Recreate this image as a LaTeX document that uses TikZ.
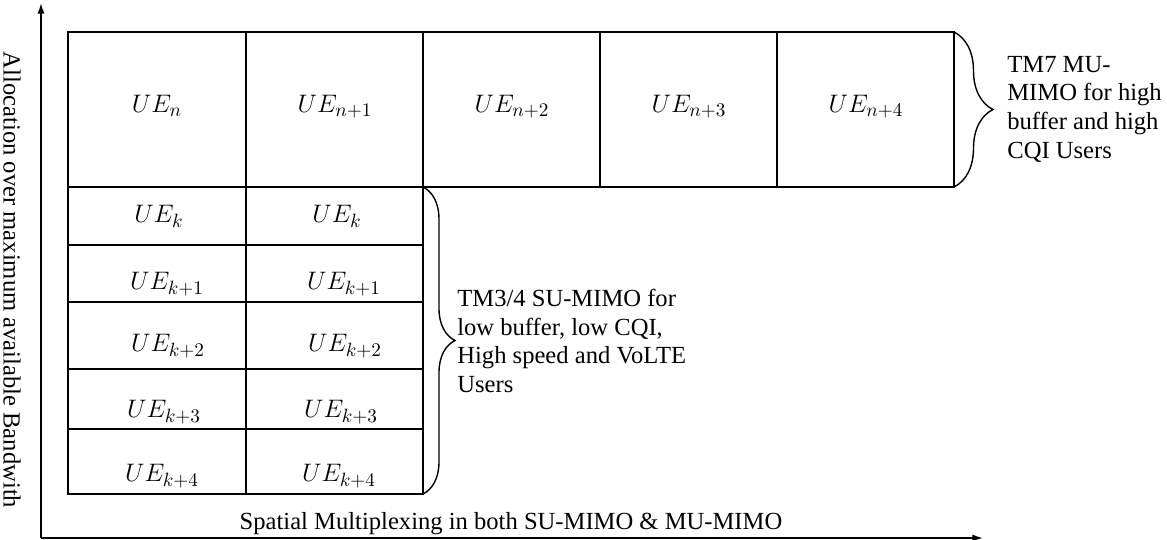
\documentclass[tikz,border=0pt]{standalone}
\usepackage{amsmath}
\usepackage{fontspec}
\setmainfont{Liberation Serif}
\usetikzlibrary{arrows.meta, decorations.pathreplacing}
\tikzset{thickline/.style = {line width = 1.6pt}}
\tikzset{thinline/.style = {line width = 0.7pt}}
\tikzset{axis/.style = {line width = 0.9pt, -{Latex[length = 6pt, width = 4pt]}}}
\tikzset{brace/.style = {line width = 0.8pt, decorate, decoration = {brace, amplitude = #1}}}
\tikzset{note/.style = {anchor = west, align = left, inner sep = 0pt, font = \fontsize{14}{16.3}\selectfont}}
\tikzset{ue/.style = {anchor = base, inner sep = 0pt, font = \fontsize{15}{17}\selectfont}}

\begin{document}
\begin{tikzpicture}[x = 0.02cm, y = -0.02cm]
				\useasboundingbox (0, 0) rectangle (1167, 540);

				% axes
				\coordinate (origin) at (41, 538);
				\coordinate (ytop) at (41, 3);
				\coordinate (xend) at (983, 538);
				\draw[axis] (origin) -- (ytop);
				\draw[axis] (origin) -- (xend);

				% MU-MIMO row
				\draw[thickline] (68, 32) rectangle (954, 187);
				\foreach \x in {246, 423, 600, 777}
					\draw[thickline] (\x, 32) -- (\x, 187);
				\foreach \i/\x/\s in {0/157/n, 1/335/n+1, 2/512/n+2, 3/689/n+3, 4/866/n+4}
					\node[ue] (mu\i) at (\x, 113) {$UE_{\s}$};

				% SU-MIMO block
				\foreach \y in {245, 302, 369, 429}
					\draw[thinline] (68, \y) -- (423, \y);
				\draw[thickline] (246, 187) -- (246, 494);
				\draw[thickline] (68, 187) rectangle (423, 494);
				\foreach \i/\y/\a/\b/\s in {0/223/159/337/k, 1/290/167/344/k+1, 2/352/168/345/k+2,
						3/418/164/341/k+3, 4/482/162/339/k+4} {
					\node[ue] (sua\i) at (\a, \y) {$UE_{\s}$};
					\node[ue] (sub\i) at (\b, \y) {$UE_{\s}$};
				}

				% braces
				\coordinate (mutop) at (954, 32);
				\coordinate (mubot) at (954, 187);
				\coordinate (sutop) at (423, 187);
				\coordinate (subot) at (423, 494);
				\draw[brace = 0.78cm] (mutop) -- (mubot);
				\draw[brace = 0.64cm] (sutop) -- (subot);

				\node[note] (mutext) at (1007, 109) {TM7 MU-\\MIMO for high\\buffer and high\\CQI Users};
				\node[note] (sutext) at (457, 341) {TM3/4 SU-MIMO for\\low buffer, low CQI,\\High speed and VoLTE\\Users};

				% axis labels
				\node[font = \fontsize{14}{16}\selectfont, rotate = -90] (ylabel) at (12, 280) {Allocation over maximum available Bandwith};
				\node[font = \fontsize{14}{16}\selectfont, anchor = base] (xlabel) at (511, 530) {Spatial Multiplexing in both SU-MIMO \& MU-MIMO};
			\end{tikzpicture}
\end{document}
